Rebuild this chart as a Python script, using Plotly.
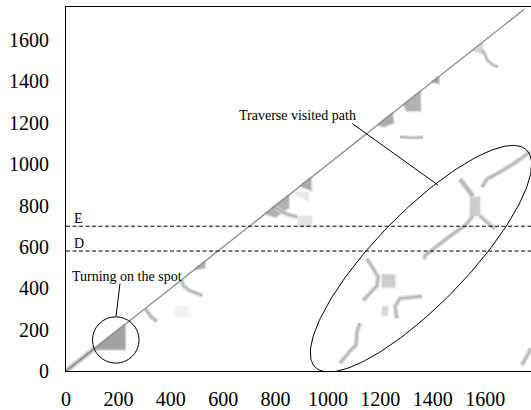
import numpy as np
import plotly.graph_objects as go

# ---- axes ---------------------------------------------------------------
X_RANGE = [0, 1775]
Y_RANGE = [0, 1760]
X_TICKS = [0, 200, 400, 600, 800, 1000, 1200, 1400, 1600]
Y_TICKS = [0, 200, 400, 600, 800, 1000, 1200, 1400, 1600]

# main diagonal of the similarity matrix (frame i vs frame i)
diag_frames = [0, 1750]

# horizontal reference levels
level_E = 700
level_D = 580

# ---- filled patches of high similarity (polygon vertices, frame units) ----
turn_patch_x = [105, 225, 225, 105]
turn_patch_y = [105, 225, 105, 105]

patch_a_x = [490, 530, 530, 490]
patch_a_y = [490, 530, 500, 490]

patch_b_x = [760, 850, 850, 800, 760]
patch_b_y = [760, 850, 790, 745, 760]

patch_c_x = [885, 940, 940, 885, 885]
patch_c_y = [750, 750, 697, 697, 750]

patch_d_x = [895, 935, 935, 895]
patch_d_y = [895, 935, 875, 895]

patch_e_x = [1190, 1245, 1250, 1215, 1190]
patch_e_y = [1190, 1245, 1200, 1183, 1190]

patch_f_x = [1290, 1352, 1352, 1300, 1290]
patch_f_y = [1290, 1352, 1258, 1258, 1290]

patch_g_x = [1398, 1422, 1422, 1398]
patch_g_y = [1398, 1422, 1392, 1398]

patch_h_x = [1550, 1590, 1590, 1550]
patch_h_y = [1550, 1590, 1535, 1550]

patch_i_x = [1542, 1580, 1580, 1542, 1542]
patch_i_y = [842, 842, 750, 750, 842]

patch_j_x = [1206, 1256, 1256, 1206, 1206]
patch_j_y = [466, 466, 404, 404, 466]

patch_k_x = [1206, 1229, 1229, 1206, 1206]
patch_k_y = [313, 313, 269, 269, 313]

patch_l_x = [416, 466, 466, 416, 416]
patch_l_y = [312, 312, 264, 264, 312]

patch_m_x = [865, 925, 925, 865]
patch_m_y = [865, 865, 822, 865]

# ---- thin similarity traces (polylines, frame units) ---------------------
trace_1_x = [302, 325, 347]
trace_1_y = [302, 262, 240]

trace_2_x = [440, 450, 470, 520]
trace_2_y = [440, 410, 390, 365]

trace_3_x = [800, 840, 882]
trace_3_y = [790, 760, 745]

trace_4_x = [1275, 1320, 1363]
trace_4_y = [1133, 1128, 1130]

trace_5_x = [1588, 1600, 1607, 1630, 1649]
trace_5_y = [1553, 1530, 1505, 1480, 1471]

trace_6_x = [1771, 1740, 1706, 1656, 1607, 1588]
trace_6_y = [1058, 1030, 1000, 962, 928, 889]

trace_7_x = [1504, 1531, 1553]
trace_7_y = [928, 880, 846]

trace_8_x = [1553, 1523, 1477, 1439, 1401, 1370, 1368]
trace_8_y = [750, 702, 663, 625, 591, 558, 540]

trace_9_x = [1580, 1611, 1637]
trace_9_y = [750, 712, 688]

trace_10_x = [1149, 1172, 1191, 1187, 1168, 1134]
trace_10_y = [543, 495, 457, 413, 385, 341]

trace_11_x = [1263, 1256, 1275, 1359]
trace_11_y = [255, 313, 351, 361]

trace_12_x = [1122, 1111, 1107, 1084, 1046]
trace_12_y = [231, 192, 125, 96, 38]

trace_13_x = [1775, 1760, 1740]
trace_13_y = [110, 70, 29]

trace_14_x = [0, 110]
trace_14_y = [0, 110]

# grey level of each patch (0 = black, 255 = white)
patch_shades = [150, 160, 165, 215, 160, 160, 165, 150, 200, 195, 195, 205, 238, 220]
patch_shapes = [
    (turn_patch_x, turn_patch_y), (patch_a_x, patch_a_y), (patch_b_x, patch_b_y),
    (patch_c_x, patch_c_y), (patch_d_x, patch_d_y), (patch_e_x, patch_e_y),
    (patch_f_x, patch_f_y), (patch_g_x, patch_g_y), (patch_h_x, patch_h_y),
    (patch_i_x, patch_i_y), (patch_j_x, patch_j_y), (patch_k_x, patch_k_y),
    (patch_l_x, patch_l_y), (patch_m_x, patch_m_y),
]

trace_shapes = [
    (trace_1_x, trace_1_y), (trace_2_x, trace_2_y), (trace_3_x, trace_3_y),
    (trace_4_x, trace_4_y), (trace_5_x, trace_5_y), (trace_6_x, trace_6_y),
    (trace_7_x, trace_7_y), (trace_8_x, trace_8_y), (trace_9_x, trace_9_y),
    (trace_10_x, trace_10_y), (trace_11_x, trace_11_y), (trace_12_x, trace_12_y),
    (trace_13_x, trace_13_y), (trace_14_x, trace_14_y),
]
trace_widths = [4, 4, 4, 3, 3, 4, 5, 4, 4, 4, 4, 4, 4, 5]

# ---- figure geometry ----------------------------------------------------
W, H = 531, 410
M_L, M_R, M_T, M_B = 66, 0, 7, 37
px_per_x = (W - M_L - M_R) / (X_RANGE[1] - X_RANGE[0])
px_per_y = (H - M_T - M_B) / (Y_RANGE[1] - Y_RANGE[0])

SERIF = "Liberation Serif"


def grey(v, a=1.0):
    return f"rgba({v},{v},{v},{a})"


fig = go.Figure()

# soft halo + core for every patch
for (xs, ys), v in zip(patch_shapes, patch_shades):
    fig.add_trace(go.Scatter(x=xs, y=ys, mode="lines", fill="toself",
                             fillcolor=grey(min(v + 25, 245)),
                             line=dict(width=3, color=grey(min(v + 35, 245), 0.6)),
                             hoverinfo="skip"))
    fig.add_trace(go.Scatter(x=xs, y=ys, mode="lines", fill="toself",
                             fillcolor=grey(v, 0.55), line=dict(width=0),
                             hoverinfo="skip"))

for (xs, ys), w in zip(trace_shapes, trace_widths):
    fig.add_trace(go.Scatter(x=xs, y=ys, mode="lines",
                             line=dict(width=w + 1, color=grey(210, 0.8)),
                             hoverinfo="skip"))
    fig.add_trace(go.Scatter(x=xs, y=ys, mode="lines",
                             line=dict(width=max(w - 2, 1.5), color=grey(155, 0.55)),
                             hoverinfo="skip"))

# diagonal
fig.add_trace(go.Scatter(x=diag_frames, y=diag_frames, mode="lines",
                         line=dict(width=1.3, color="#8a8a8a"), hoverinfo="skip"))

# dashed reference lines
for lvl in (level_E, level_D):
    fig.add_shape(type="line", xref="paper", yref="y", x0=0, x1=1, y0=lvl, y1=lvl,
                  line=dict(color="black", width=1, dash="4px,2.5px"))

# circle around the on-the-spot turn
circ_cx, circ_cy, circ_r = 190, 150, 23.3
fig.add_shape(type="circle", xref="x", yref="y",
              x0=circ_cx - circ_r / px_per_x, x1=circ_cx + circ_r / px_per_x,
              y0=circ_cy - circ_r / px_per_y, y1=circ_cy + circ_r / px_per_y,
              line=dict(color="black", width=1))

# tilted ellipse around the revisited section (semi-axes in screen pixels)
ell_cx, ell_cy = 1355, 543
ell_a, ell_b, ell_ang = 152, 46, np.deg2rad(46)
t = np.linspace(0, 2 * np.pi, 181)
ex_px = ell_a * np.cos(t) * np.cos(ell_ang) - ell_b * np.sin(t) * np.sin(ell_ang)
ey_px = ell_a * np.cos(t) * np.sin(ell_ang) + ell_b * np.sin(t) * np.cos(ell_ang)
ex = ell_cx + ex_px / px_per_x
ey = ell_cy + ey_px / px_per_y
fig.add_trace(go.Scatter(x=ex, y=ey, mode="lines", line=dict(color="black", width=1),
                         hoverinfo="skip", cliponaxis=False))

# labels and leader lines
fig.add_annotation(x=233, y=457, xref="x", yref="y", text="Turning on the spot",
                   showarrow=False, font=dict(family=SERIF, size=14, color="black"))
fig.add_annotation(x=885, y=1236, xref="x", yref="y", text="Traverse visited path",
                   showarrow=False, font=dict(family=SERIF, size=14, color="black"))
for lbl, lvl in (("E", level_E), ("D", level_D)):
    fig.add_annotation(x=0.012, y=lvl, xref="paper", yref="y", text=lbl,
                       showarrow=False, xanchor="left", yanchor="bottom", yshift=-2,
                       font=dict(family=SERIF, size=14, color="black"))

fig.add_shape(type="line", xref="x", yref="y", x0=206, y0=423, x1=191, y1=264,
              line=dict(color="black", width=1))
fig.add_shape(type="line", xref="x", yref="y", x0=1092, y0=1197, x1=1420, y1=899,
              line=dict(color="black", width=1))

fig.update_layout(
    width=W, height=H,
    margin=dict(l=M_L, r=M_R, t=M_T, b=M_B, pad=0),
    paper_bgcolor="white", plot_bgcolor="white",
    showlegend=False,
    font=dict(family=SERIF, size=20, color="black"),
)
fig.update_xaxes(range=X_RANGE, tickvals=X_TICKS, showgrid=False, zeroline=False,
                 showline=True, linecolor="black", linewidth=1.2, mirror=True,
                 ticks="", ticklabelstandoff=10,
                 tickfont=dict(family=SERIF, size=20, color="black"))
fig.update_yaxes(range=Y_RANGE, tickvals=Y_TICKS, showgrid=False, zeroline=False,
                 showline=True, linecolor="black", linewidth=1.2, mirror=False,
                 ticks="", ticklabelstandoff=12,
                 tickfont=dict(family=SERIF, size=20, color="black"))

fig.write_html("out.html")
